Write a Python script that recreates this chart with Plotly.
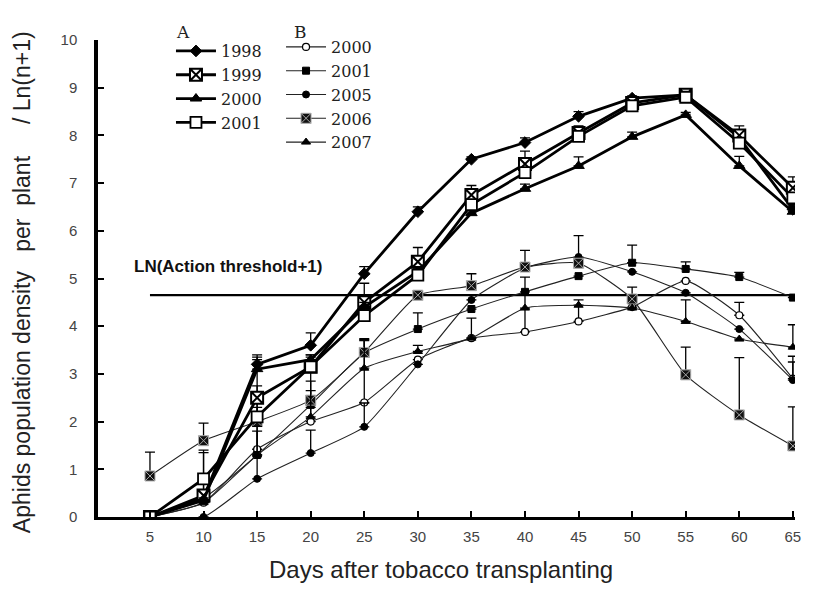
import plotly.graph_objects as go

days = [5, 10, 15, 20, 25, 30, 35, 40, 45, 50, 55, 60, 65]

# Group A (thick lines)
a_1998 = [0, 0.4, 3.2, 3.6, 5.1, 6.4, 7.5, 7.85, 8.4, 8.78, 8.85, 7.95, 6.45]
a_1999 = [0, 0.45, 2.5, 3.15, 4.5, 5.35, 6.75, 7.4, 8.05, 8.68, 8.85, 8.0, 6.9]
a_2000 = [0, 0.35, 3.1, 3.3, 4.4, 5.15, 6.37, 6.88, 7.36, 7.97, 8.43, 7.36, 6.4]
a_2001 = [0, 0.8, 2.1, 3.15, 4.22, 5.07, 6.55, 7.22, 7.98, 8.62, 8.8, 7.84, 6.69]
a_1998_err = [0, 0.05, 0.2, 0.26, 0.15, 0.1, 0.05, 0.1, 0.1, 0.05, 0.05, 0.1, 0.1]
a_1999_err = [0, 0.1, 0.25, 0.25, 0.4, 0.3, 0.2, 0.27, 0.15, 0.1, 0.1, 0.2, 0.23]
a_2000_err = [0, 0.05, 0.25, 0.1, 0.1, 0.1, 0.1, 0.1, 0.19, 0.1, 0.05, 0.2, 0.1]
a_2001_err = [0, 0.1, 0.2, 0.2, 0.2, 0.15, 0.1, 0.1, 0.1, 0.05, 0.05, 0.1, 0.1]

# Group B (thin lines)
b_2000 = [0, 0.3, 1.42, 2.0, 2.4, 3.3, 3.75, 3.88, 4.1, 4.4, 4.95, 4.23, 2.9]
b_2001 = [0, 0.4, 1.3, 2.35, 3.44, 3.94, 4.36, 4.72, 5.05, 5.33, 5.2, 5.03, 4.6]
b_2005 = [0, 0, 0.8, 1.34, 1.89, 3.2, 4.55, 5.22, 5.45, 5.14, 4.7, 3.94, 2.87]
b_2006 = [0.86, 1.6, 2.0, 2.45, 3.45, 4.65, 4.85, 5.24, 5.32, 4.57, 2.98, 2.14, 1.49]
b_2007 = [0, 0.3, 1.3, 2.1, 3.12, 3.47, 3.75, 4.38, 4.44, 4.38, 4.1, 3.73, 3.56]
b_2000_err = [0, 1.05, 1.0, 0.3, 1.3, 0, 0.42, 1.15, 0.45, 0, 0, 0.27, 0.35]
b_2001_err = [0, 1.0, 0, 0.3, 0.3, 0.34, 0, 0, 0, 0.37, 0.15, 0.1, 0]
b_2005_err = [0, 0, 1.0, 0.48, 0.5, 0, 0.1, 0, 0.45, 0, 0, 0, 0.5]
b_2006_err = [0.5, 0.37, 1.3, 0.4, 0, 0, 0.25, 0.35, 0, 0.25, 0.58, 1.2, 0.82]
b_2007_err = [0, 0, 0.6, 1.0, 0.6, 0.13, 0, 0, 0, 0, 0.45, 0, 0.47]

threshold_days = [5, 65]
threshold_value = [4.65, 4.65]

y_ticks = [0, 1, 2, 3, 4, 5, 6, 7, 8, 9, 10]

fig = go.Figure()


def err(arr):
    return dict(type="data", symmetric=False, array=arr, arrayminus=[0] * len(arr),
                color="black", thickness=1.3, width=5)


# threshold line
fig.add_trace(go.Scatter(x=threshold_days, y=threshold_value, mode="lines",
                         line=dict(color="black", width=2.2), showlegend=False,
                         hoverinfo="skip"))

# Group B first (thin) so group A draws on top
b_series = [
    ("2000", b_2000, b_2000_err, dict(symbol="circle", size=7, color="white", line=dict(color="black", width=1.2))),
    ("2001", b_2001, b_2001_err, dict(symbol="square", size=7, color="black", line=dict(color="black", width=1))),
    ("2005", b_2005, b_2005_err, dict(symbol="circle", size=7, color="black", line=dict(color="black", width=1))),
    ("2006", b_2006, b_2006_err, dict(symbol="square-x", size=10, color="#111", line=dict(color="#aaa", width=1))),
    ("2007", b_2007, b_2007_err, dict(symbol="triangle-up", size=8, color="black", line=dict(color="black", width=1))),
]
for name, vals, e, mk in b_series:
    fig.add_trace(go.Scatter(x=days, y=vals, name=name, mode="lines+markers",
                             line=dict(color="#222", width=1.1, shape="spline", smoothing=0.5),
                             marker=mk, error_y=err(e), legend="legend2"))

a_series = [
    ("1998", a_1998, a_1998_err, dict(symbol="diamond", size=9, color="black", line=dict(color="black", width=1))),
    ("1999", a_1999, a_1999_err, dict(symbol="square-x", size=12, color="white", line=dict(color="black", width=2))),
    ("2000", a_2000, a_2000_err, dict(symbol="triangle-up", size=10, color="black", line=dict(color="black", width=1))),
    ("2001", a_2001, a_2001_err, dict(symbol="square", size=11, color="white", line=dict(color="black", width=1.8))),
]
for name, vals, e, mk in a_series:
    fig.add_trace(go.Scatter(x=days, y=vals, name=name, mode="lines+markers",
                             line=dict(color="black", width=2.8),
                             marker=mk, error_y=err(e), legend="legend"))

legend_common = dict(
    bgcolor="rgba(0,0,0,0)",
    font=dict(family="DejaVu Serif", size=16, color="#222"),
    itemwidth=40,
    xanchor="left", yanchor="top",
    tracegroupgap=0,
    traceorder="normal",
)

nb = "\u00a0"
y_title = ("Aphids population density" + nb * 3 + "per" + nb * 2 + "plant" + nb * 5
           + "/" + nb * 1 + "Ln(n+1)")

fig.update_layout(
    width=838, height=589,
    margin=dict(l=90, r=51, t=32, b=80),
    paper_bgcolor="white", plot_bgcolor="white",
    legend=dict(x=0.1047, y=1.0125, **legend_common),
    legend2=dict(x=0.2626, y=1.021, **legend_common),
    xaxis=dict(range=[0.15, 65.2], tickmode="array", tickvals=days, ticktext=[str(d) for d in days],
               ticks="inside", ticklen=6, tickwidth=2, tickcolor="black",
               showline=True, linecolor="black", linewidth=3, showgrid=False, zeroline=False,
               tickfont=dict(family="Arial, Liberation Sans", size=15, color="#444"),
               ticklabelstandoff=4),
    yaxis=dict(range=[0, 10], tickmode="array", tickvals=y_ticks, ticktext=[str(t) for t in y_ticks],
               ticks="inside", ticklen=6, tickwidth=2, tickcolor="black",
               showline=True, linecolor="black", linewidth=3.5, showgrid=False, zeroline=False,
               tickfont=dict(family="Arial, Liberation Sans", size=15, color="#444"),
               ticklabelstandoff=14),
    annotations=[
        dict(text="A", xref="paper", yref="paper", x=0.122, y=1.017,
             xanchor="center", yanchor="middle", showarrow=False,
             font=dict(family="DejaVu Serif", size=17, color="#222")),
        dict(text="B", xref="paper", yref="paper", x=0.29, y=1.017,
             xanchor="center", yanchor="middle", showarrow=False,
             font=dict(family="DejaVu Serif", size=17, color="#222")),
        dict(text=y_title, textangle=-90,
             xref="paper", yref="paper", x=-0.109, y=-0.038, xanchor="center", yanchor="bottom",
             showarrow=False, font=dict(family="Arial, Liberation Sans", size=23, color="#222")),
        dict(text="Days after tobacco transplanting", xref="paper", yref="paper",
             x=0.492, y=-0.111, xanchor="center", yanchor="middle", showarrow=False,
             font=dict(family="Arial, Liberation Sans", size=24, color="#222")),
        dict(text="<b>LN(Action threshold+1)</b>", xref="x", yref="y", x=3.3, y=5.02,
             xanchor="left", yanchor="bottom", showarrow=False,
             font=dict(family="Arial, Liberation Sans", size=17, color="#111")),
    ],
)

fig.write_html("out.html")
